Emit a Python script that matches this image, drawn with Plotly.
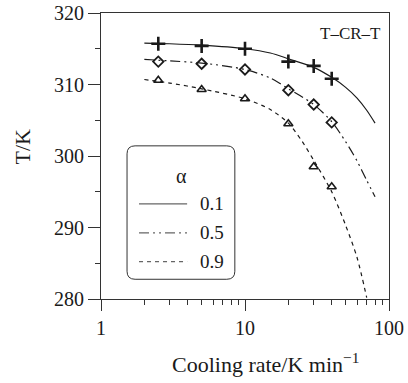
import plotly.graph_objects as go

# ---- data ----
rate_pts = [2.5, 5, 10, 20, 30, 40]
T_a01 = [315.7, 315.4, 315.0, 313.2, 312.6, 310.8]
T_a05 = [313.2, 312.9, 312.1, 309.2, 307.2, 304.7]
T_a09 = [310.6, 309.3, 308.0, 304.5, 298.5, 295.7]

fit_rate_01 = [2, 3, 5, 10, 15, 20, 30, 40, 50, 60, 70, 80]
fit_T_01 = [315.8, 315.7, 315.5, 315.0, 314.4, 313.6, 312.4, 311.0, 309.6, 308.1, 306.4, 304.6]
fit_rate_05 = [2, 3, 5, 10, 15, 20, 30, 40, 50, 60, 70, 80]
fit_T_05 = [313.5, 313.3, 313.0, 312.1, 310.9, 309.4, 307.2, 304.8, 302.0, 299.3, 296.6, 294.3]
fit_rate_09 = [2, 3, 5, 10, 15, 20, 25, 30, 40, 50, 60, 70]
fit_T_09 = [310.7, 310.2, 309.4, 308.0, 306.5, 304.6, 302.0, 299.4, 295.0, 290.3, 285.8, 280.2]

legend_title = "α"
legend_labels = ["0.1", "0.5", "0.9"]
x_ticks = [1, 10, 100]
y_ticks = [280, 290, 300, 310, 320]

FONT = "Liberation Serif"
INK = "#1a1a1a"
dash_05 = "10px,4px,2px,4px,2px,4px"
dash_09 = "4px,4px"

fig = go.Figure()
for xs, ys, dash in [(fit_rate_01, fit_T_01, "solid"),
                     (fit_rate_05, fit_T_05, dash_05),
                     (fit_rate_09, fit_T_09, dash_09)]:
    fig.add_trace(go.Scatter(x=xs, y=ys, mode="lines",
                             line=dict(color=INK, width=1.2, dash=dash, shape="spline", smoothing=0.8),
                             hoverinfo="skip"))

fig.add_trace(go.Scatter(x=rate_pts, y=T_a01, mode="markers",
                         marker=dict(symbol="cross-thin", size=10, line=dict(color=INK, width=2.6))))
fig.add_trace(go.Scatter(x=rate_pts, y=T_a05, mode="markers",
                         marker=dict(symbol="diamond-open", size=8, color=INK, line=dict(color=INK, width=1.8))))
fig.add_trace(go.Scatter(x=rate_pts, y=T_a09, mode="markers",
                         marker=dict(symbol="triangle-up-open", size=8, color=INK, line=dict(color=INK, width=1.6))))

# ---- hand-drawn legend (rounded box) ----
x0, x1, y0, y1 = 0.0904, 0.4647, 0.069, 0.5355
rx, ry = 0.028, 0.028
path = (f"M {x0+rx},{y1} L {x1-rx},{y1} Q {x1},{y1} {x1},{y1-ry} "
        f"L {x1},{y0+ry} Q {x1},{y0} {x1-rx},{y0} L {x0+rx},{y0} "
        f"Q {x0},{y0} {x0},{y0+ry} L {x0},{y1-ry} Q {x0},{y1} {x0+rx},{y1} Z")
shapes = [dict(type="path", xref="paper", yref="paper", path=path,
               line=dict(color="#333333", width=1), fillcolor="white", layer="below")]
leg_y = [0.3325, 0.231, 0.1306]
for yy, dash in zip(leg_y, ["solid", dash_05, dash_09]):
    shapes.append(dict(type="line", xref="paper", yref="paper", x0=0.132, x1=0.299, y0=yy, y1=yy,
                       line=dict(color="#666666", width=1.3, dash=dash)))

annotations = [
    dict(text=legend_title, xref="paper", yref="paper", x=0.2805, y=0.4305, showarrow=False,
         font=dict(family=FONT, size=20, color=INK), xanchor="center", yanchor="middle"),
    dict(text="T–CR–T", xref="paper", yref="paper", x=0.980, y=0.9286, showarrow=False,
         font=dict(family=FONT, size=17, color=INK), xanchor="right", yanchor="middle"),
    dict(text="T/K", xref="paper", yref="paper", x=-0.271, y=0.533, showarrow=False, textangle=-90,
         font=dict(family=FONT, size=22, color=INK), xanchor="center", yanchor="middle"),
    dict(text="Cooling rate/K min<sup>−1</sup>", xref="paper", yref="paper", x=0.57, y=-0.225,
         showarrow=False, font=dict(family=FONT, size=22, color=INK), xanchor="center", yanchor="middle"),
]
for yy, lab in zip(leg_y, legend_labels):
    annotations.append(dict(text=lab, xref="paper", yref="paper", x=0.337, y=yy, showarrow=False,
                            font=dict(family=FONT, size=19, color=INK), xanchor="left", yanchor="middle"))

fig.update_layout(
    width=408, height=383,
    margin=dict(l=101, r=19, t=13, b=84, autoexpand=False),
    paper_bgcolor="white", plot_bgcolor="rgba(0,0,0,0)",
    showlegend=False, hovermode=False,
    font=dict(family=FONT, color=INK),
    shapes=shapes, annotations=annotations,
)
fig.update_xaxes(type="log", range=[0, 2], tickvals=x_ticks, ticktext=[str(v) for v in x_ticks],
                 automargin=False,
                 ticks="outside", ticklen=11, tickwidth=1, tickcolor="#333",
                 minor=dict(ticks="outside", ticklen=5, tickwidth=1, tickcolor="#333",
                            tickvals=[2, 3, 4, 5, 6, 7, 8, 9, 20, 30, 40, 50, 60, 70, 80, 90], showgrid=False),
                 showline=True, linecolor="#333", linewidth=1, mirror=True,
                 showgrid=False, zeroline=False, tickfont=dict(family=FONT, size=20, color=INK))
fig.update_yaxes(range=[280, 320], tickvals=y_ticks, automargin=False,
                 ticks="outside", ticklen=12, tickwidth=1, tickcolor="#333",
                 minor=dict(ticks="outside", ticklen=5, tickwidth=1, tickcolor="#333",
                            dtick=5, showgrid=False),
                 showline=True, linecolor="#333", linewidth=1, mirror=True,
                 showgrid=False, zeroline=False, tickfont=dict(family=FONT, size=20, color=INK))

fig.write_html("out.html", config={"displayModeBar": False},
               post_script="document.body.style.margin='0';document.body.style.padding='0';")
